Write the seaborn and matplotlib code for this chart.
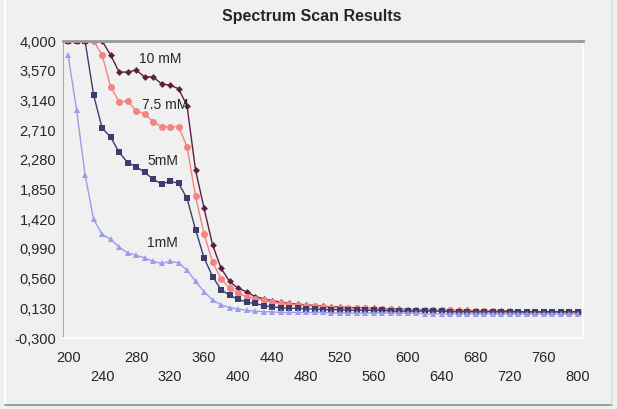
import matplotlib
matplotlib.use("Agg")
import matplotlib.pyplot as plt
from matplotlib.lines import Line2D
import seaborn as sns

# -----------------------------------
# Data
# -----------------------------------
wavelengths = list(range(200, 810, 10))

ten_mm = [
    4.00, 4.00, 4.00, 4.00, 4.00, 3.80, 3.55, 3.55, 3.58, 3.48,
    3.48, 3.38, 3.36, 3.31, 3.06, 2.13, 1.58, 1.05, 0.71, 0.52,
    0.42, 0.37, 0.30, 0.27, 0.24, 0.22, 0.20, 0.19, 0.18, 0.17,
    0.16, 0.15, 0.15, 0.14, 0.14, 0.13, 0.13, 0.12, 0.12, 0.12,
    0.11, 0.11, 0.11, 0.10, 0.10, 0.10, 0.10, 0.10, 0.09, 0.09,
    0.09, 0.09, 0.09, 0.08, 0.08, 0.08, 0.08, 0.08, 0.08, 0.08,
    0.08,
]
seven_five_mm = [
    4.00, 4.00, 4.00, 4.00, 3.80, 3.34, 3.12, 3.13, 2.99, 2.95,
    2.83, 2.76, 2.76, 2.76, 2.47, 1.75, 1.21, 0.80, 0.56, 0.42,
    0.35, 0.30, 0.27, 0.25, 0.22, 0.20, 0.19, 0.18, 0.17, 0.16,
    0.15, 0.14, 0.14, 0.13, 0.13, 0.13, 0.12, 0.12, 0.12, 0.11,
    0.11, 0.11, 0.10, 0.10, 0.10, 0.10, 0.09, 0.09, 0.09, 0.09,
    0.09, 0.08, 0.08, 0.08, 0.08, 0.08, 0.08, 0.08, 0.07, 0.07,
    0.07,
]
five_mm = [
    4.00, 4.00, 4.00, 3.22, 2.74, 2.61, 2.39, 2.24, 2.18, 2.10,
    2.00, 1.93, 1.97, 1.94, 1.72, 1.27, 0.86, 0.59, 0.40, 0.32,
    0.26, 0.22, 0.20, 0.17, 0.15, 0.14, 0.13, 0.13, 0.12, 0.12,
    0.11, 0.11, 0.11, 0.10, 0.10, 0.10, 0.10, 0.10, 0.09, 0.09,
    0.09, 0.09, 0.09, 0.09, 0.09, 0.08, 0.08, 0.08, 0.08, 0.08,
    0.08, 0.08, 0.08, 0.08, 0.08, 0.08, 0.08, 0.08, 0.08, 0.08,
    0.08,
]
one_mm = [
    3.80, 3.00, 2.06, 1.42, 1.20, 1.13, 1.02, 0.93, 0.90, 0.86,
    0.81, 0.78, 0.81, 0.79, 0.68, 0.52, 0.37, 0.25, 0.18, 0.14,
    0.12, 0.10, 0.09, 0.08, 0.08, 0.07, 0.07, 0.07, 0.07, 0.07,
    0.07, 0.06, 0.06, 0.06, 0.06, 0.06, 0.06, 0.06, 0.06, 0.06,
    0.06, 0.06, 0.05, 0.05, 0.05, 0.05, 0.05, 0.05, 0.05, 0.05,
    0.05, 0.05, 0.05, 0.05, 0.05, 0.05, 0.05, 0.05, 0.05, 0.05,
    0.05,
]

series_names = ["10 mM", "7.5 mM", "5mM", "1mM"]
y_ticks = [-0.30, 0.13, 0.56, 0.99, 1.42, 1.85, 2.28, 2.71, 3.14, 3.57, 4.00]
x_ticks = [200, 240, 280, 320, 360, 400, 440, 480, 520, 560, 600, 640, 680, 720, 760, 800]

# -----------------------------------
# Styling
# -----------------------------------
sns.set_style("white")
plt.rcParams["font.family"] = ["Liberation Sans", "DejaVu Sans"]

bg = "#f0f0f0"
styles = {
    "10 mM": dict(color="#5e1f3e", marker="D", markersize=3.5),
    "7.5 mM": dict(color="#f28482", marker="o", markersize=5),
    "5mM": dict(color="#3d3d6b", marker="s", markersize=4.5),
    "1mM": dict(color="#9c9cec", marker="^", markersize=4.5),
}
values = {"10 mM": ten_mm, "7.5 mM": seven_five_mm, "5mM": five_mm, "1mM": one_mm}

fig = plt.figure(figsize=(6.17, 4.09), dpi=100, facecolor=bg)
ax = fig.add_axes([63 / 617, 1 - 338 / 409, (583 - 63) / 617, (338 - 41) / 409])
ax.set_facecolor(bg)

for name in series_names:
    st = styles[name]
    sns.lineplot(
        x=wavelengths,
        y=values[name],
        ax=ax,
        color=st["color"],
        marker=st["marker"],
        markersize=st["markersize"],
        markeredgewidth=0,
        linewidth=1,
    )

ax.set_xlim(194, 806)
ax.set_ylim(-0.30, 4.00)

ax.set_yticks(y_ticks)
ax.set_yticklabels([f"{v:.3f}".replace(".", ",") for v in y_ticks], fontsize=10.5)
ax.set_xticks(x_ticks)
ax.set_xticklabels([str(v) if i % 2 == 0 else "\n" + str(v) for i, v in enumerate(x_ticks)],
                   fontsize=10.5, linespacing=1.5)
ax.tick_params(axis="x", length=4, color="#999999", pad=5, direction="out")
ax.tick_params(axis="y", length=3, color="#999999", pad=2)

for side in ["bottom", "right"]:
    ax.spines[side].set_color("white")
    ax.spines[side].set_linewidth(1.2)
ax.spines["left"].set_color("#a8a8a8")
ax.spines["top"].set_color("#999999")
ax.spines["top"].set_linewidth(2)

ax.set_xlabel("")
ax.set_ylabel("")

# series labels
ax.text(308, 3.74, "10 mM", fontsize=10, ha="center", va="center")
ax.text(314, 3.07, "7.5 mM", fontsize=10, ha="center", va="center")
ax.text(311, 2.26, "5mM", fontsize=10, ha="center", va="center")
ax.text(311, 1.08, "1mM", fontsize=10, ha="center", va="center")

fig.text(312 / 617, 1 - 16 / 409, "Spectrum Scan Results", fontsize=11.5,
         fontweight="bold", ha="center", va="center")

# outer frame of the chart panel
fig.add_artist(Line2D([5 / 617, 5 / 617], [0, 1], color="white", lw=1.5, transform=fig.transFigure))
fig.add_artist(Line2D([5 / 617, 612 / 617], [1 - 405 / 409] * 2, color="#a0a0a0", lw=1.5,
                      transform=fig.transFigure))
fig.add_artist(Line2D([612 / 617, 612 / 617], [1 - 405 / 409, 1], color="#dcdcdc", lw=1.2,
                      transform=fig.transFigure))

fig.savefig("out.png", dpi=100, facecolor=bg)
